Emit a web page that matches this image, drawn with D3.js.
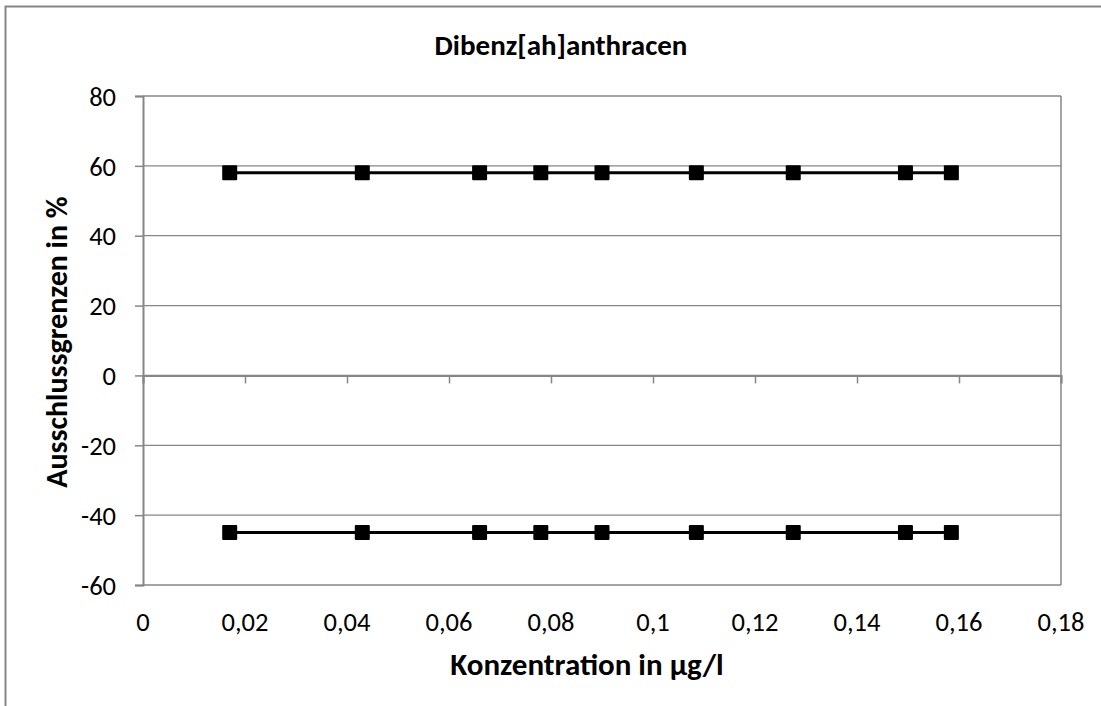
<!DOCTYPE html>
<html><head><meta charset="utf-8">
<script src="https://cdn.jsdelivr.net/npm/d3@7"></script>
<style>body{margin:0;background:#fff}svg{display:block}text{font-family:Carlito,Lato,"Open Sans",sans-serif;fill:#000}</style>
</head><body><svg id="c" width="1101" height="706"></svg>
<script>
const title = "Dibenz[ah]anthracen";
const xLabel = "Konzentration in µg/l";
const yLabel = "Ausschlussgrenzen in %";
const concentrations = [0.017, 0.043, 0.066, 0.078, 0.09, 0.1085, 0.1275, 0.1495, 0.1585];
const upperLimit = [58, 58, 58, 58, 58, 58, 58, 58, 58];
const lowerLimit = [-45, -45, -45, -45, -45, -45, -45, -45, -45];
const xTicks = [0, 0.02, 0.04, 0.06, 0.08, 0.1, 0.12, 0.14, 0.16, 0.18];
const yTicks = [-60, -40, -20, 0, 20, 40, 60, 80];

const svg = d3.select("#c");
const L = 143, R = 1061, T = 96, B = 585;
const x = d3.scaleLinear().domain([0, 0.18]).range([L, R]);
const y = d3.scaleLinear().domain([-60, 80]).range([B, T]);
const grid = "#868686";
const fmt = v => String(v).replace(".", ",");

// outer chart border
svg.append("rect").attr("x", 5.5).attr("y", 6.5).attr("width", 1111).attr("height", 720)
  .attr("fill", "none").attr("stroke", grid).attr("stroke-width", 2);

// horizontal gridlines
svg.append("g").selectAll("line").data(yTicks).join("line")
  .attr("x1", L).attr("x2", R).attr("y1", d => y(d)).attr("y2", d => y(d))
  .attr("stroke", grid).attr("stroke-width", 1.3);
// right border
svg.append("line").attr("x1", R).attr("x2", R).attr("y1", T).attr("y2", B)
  .attr("stroke", grid).attr("stroke-width", 1.5);

// y axis
const yAxis = svg.append("g").attr("transform", `translate(${L},0)`)
  .call(d3.axisLeft(y).tickValues(yTicks).tickSize(8).tickFormat(fmt));
yAxis.select(".domain").attr("stroke", grid).attr("stroke-width", 2);
yAxis.selectAll(".tick line").attr("stroke", grid).attr("stroke-width", 1.5);
yAxis.selectAll(".tick text").attr("x", -27).attr("dy", "0.35em")
  .style("font-size", "26.5px").style("font-family", "Carlito,Lato,sans-serif");

// x axis at y=0 with downward ticks
const xAxis = svg.append("g").attr("transform", `translate(0,${y(0)})`)
  .call(d3.axisBottom(x).tickValues(xTicks).tickSize(8).tickFormat(""));
xAxis.select(".domain").attr("stroke", grid).attr("stroke-width", 2);
xAxis.selectAll(".tick line").attr("stroke", grid).attr("stroke-width", 1.5);

// x tick labels at bottom
svg.append("g").selectAll("text").data(xTicks).join("text")
  .attr("x", d => x(d)).attr("y", 631).attr("text-anchor", "middle")
  .style("font-size", "26.5px").text(fmt);

// series
const series = [upperLimit, lowerLimit];
const line = d3.line().x(d => x(d[0])).y(d => y(d[1]));
series.forEach(vals => {
  const pts = concentrations.map((c, i) => [c, vals[i]]);
  svg.append("path").datum(pts).attr("d", line)
    .attr("fill", "none").attr("stroke", "#000").attr("stroke-width", 3);
  svg.append("g").selectAll("rect").data(pts).join("rect")
    .attr("x", d => x(d[0]) - 7.5).attr("y", d => y(d[1]) - 7.5)
    .attr("width", 15).attr("height", 15).attr("rx", 1).attr("fill", "#000");
});

// titles
svg.append("text").attr("x", 561).attr("y", 55).attr("text-anchor", "middle")
  .style("font-size", "29px").style("font-weight", "bold").text(title);
svg.append("text").attr("x", 587).attr("y", 675).attr("text-anchor", "middle")
  .style("font-size", "31px").style("font-weight", "bold").text(xLabel);
svg.append("text").attr("transform", "translate(67,342) rotate(-90)").attr("text-anchor", "middle")
  .style("font-size", "30px").style("font-weight", "bold").text(yLabel);
</script></body></html>
